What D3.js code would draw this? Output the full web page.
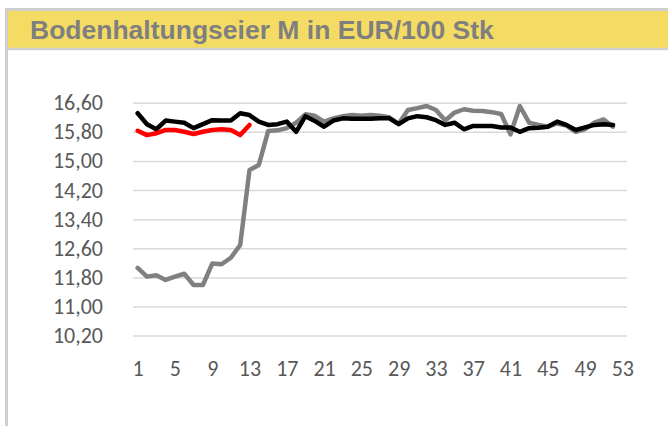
<!DOCTYPE html>
<html>
<head>
<meta charset="utf-8">
<script src="https://cdnjs.cloudflare.com/ajax/libs/d3/7.8.5/d3.min.js"></script>
<style>
  body { margin: 0; background: #fff; }
  svg { display: block; }
</style>
</head>
<body>
<svg id="svg" width="668" height="426"></svg>
<script>
const titleText = "Bodenhaltungseier M in EUR/100 Stk";

const weeks = d3.range(1, 54); // 53 week categories
const xTickLabels = [1, 5, 9, 13, 17, 21, 25, 29, 33, 37, 41, 45, 49, 53];
const yTickValues = [10.2, 11.0, 11.8, 12.6, 13.4, 14.2, 15.0, 15.8, 16.6];

// grey series (weeks 1-52)
const greyValues = [12.06, 11.82, 11.86, 11.73, 11.82, 11.90, 11.59, 11.59, 12.18, 12.16,
  12.34, 12.69, 14.75, 14.89, 15.82, 15.84, 15.90, 16.05, 16.28, 16.24,
  16.08, 16.17, 16.23, 16.26, 16.24, 16.26, 16.24, 16.20, 16.02, 16.40,
  16.45, 16.51, 16.40, 16.11, 16.33, 16.42, 16.38, 16.37, 16.34, 16.29,
  15.73, 16.51, 16.05, 15.99, 15.94, 16.03, 15.97, 15.80, 15.87, 16.05,
  16.14, 15.94];

// black series (weeks 1-52)
const blackValues = [16.31, 16.01, 15.87, 16.11, 16.08, 16.05, 15.90, 16.01, 16.12, 16.11,
  16.11, 16.31, 16.26, 16.08, 15.99, 16.01, 16.08, 15.80, 16.23, 16.10,
  15.94, 16.11, 16.17, 16.16, 16.16, 16.16, 16.17, 16.17, 16.01, 16.17,
  16.23, 16.20, 16.12, 15.99, 16.05, 15.87, 15.96, 15.96, 15.96, 15.92,
  15.92, 15.80, 15.90, 15.91, 15.94, 16.08, 15.99, 15.85, 15.92, 15.99,
  16.01, 15.99];

// red series (weeks 1-13 only)
const redValues = [15.83, 15.71, 15.76, 15.85, 15.85, 15.80, 15.74, 15.80, 15.85, 15.87,
  15.85, 15.71, 15.99];

const svg = d3.select("#svg");

// frame + yellow title bar
svg.append("rect")
  .attr("x", 6.5).attr("y", 9.5)
  .attr("width", 700).attr("height", 500)
  .attr("fill", "none")
  .attr("stroke", "#cfcfcf")
  .attr("stroke-width", 3);

svg.append("rect")
  .attr("x", 8).attr("y", 11)
  .attr("width", 670).attr("height", 37)
  .attr("fill", "#f4dc64");

svg.append("line")
  .attr("x1", 8).attr("x2", 668)
  .attr("y1", 49).attr("y2", 49)
  .attr("stroke", "#cfcfcf")
  .attr("stroke-width", 2.5);

svg.append("text")
  .attr("x", 30).attr("y", 39)
  .attr("font-family", "'Liberation Sans', Arial, sans-serif")
  .attr("font-weight", "bold")
  .attr("font-size", 26.5)
  .attr("fill", "#7f7f7f")
  .text(titleText);

// scales
const x = d3.scalePoint()
  .domain(weeks)
  .range([133, 627])
  .padding(0.5);

const y = d3.scaleLinear()
  .domain([10.2, 16.6])
  .range([335.6, 102.7]);

const comma = d3.formatLocale({ decimal: ",", thousands: ".", grouping: [3], currency: ["", "€"] }).format(".2f");

// gridlines
const grid = svg.append("g")
  .attr("transform", "translate(133,0)")
  .call(d3.axisLeft(y).tickValues(yTickValues).tickSize(-494).tickFormat(""));
grid.select(".domain").remove();
grid.selectAll(".tick line").attr("stroke", "#d9d9d9").attr("stroke-width", 1.5);

// y labels
const yAxis = svg.append("g")
  .attr("transform", "translate(103,0)")
  .call(d3.axisLeft(y).tickValues(yTickValues).tickSize(0).tickPadding(0).tickFormat(comma));
yAxis.select(".domain").remove();
yAxis.selectAll("text")
  .attr("font-family", "Carlito, Calibri, Lato, sans-serif")
  .attr("font-size", 22)
  .attr("fill", "#595959");

// x labels
const xAxis = svg.append("g")
  .attr("transform", "translate(0,360)")
  .call(d3.axisBottom(x).tickValues(xTickLabels).tickSize(0).tickPadding(0));
xAxis.select(".domain").remove();
xAxis.selectAll("text")
  .attr("font-family", "Carlito, Calibri, Lato, sans-serif")
  .attr("font-size", 22)
  .attr("fill", "#595959");

// lines
const line = d3.line()
  .x((d, i) => x(weeks[i]))
  .y(d => y(d));

const series = [
  { values: greyValues, color: "#808080" },
  { values: blackValues, color: "#000000" },
  { values: redValues, color: "#ff0000" }
];

svg.selectAll("path.series")
  .data(series)
  .enter()
  .append("path")
  .attr("class", "series")
  .attr("d", d => line(d.values))
  .attr("fill", "none")
  .attr("stroke", d => d.color)
  .attr("stroke-width", 4.5)
  .attr("stroke-linejoin", "round")
  .attr("stroke-linecap", "round");
</script>
</body>
</html>
